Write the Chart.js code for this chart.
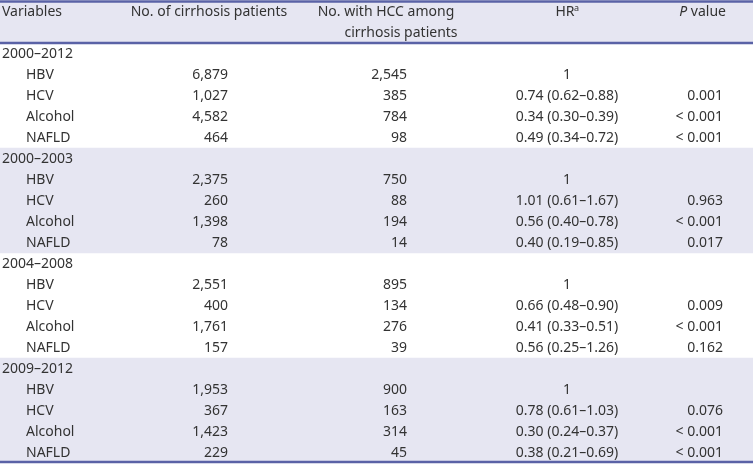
<!DOCTYPE html>
<html>
<head>
<meta charset="utf-8">
<script src="https://cdn.jsdelivr.net/npm/chart.js@4/dist/chart.umd.min.js"></script>
<style>
  html, body { margin: 0; padding: 0; background: #fff; }
  #wrap { width: 753px; height: 472px; }
</style>
</head>
<body>
<div id="wrap"><canvas id="hcc-table"></canvas></div>
<script>
const periods = ["2000–2012", "2000–2003", "2004–2008", "2009–2012"];
const causes = ["HBV", "HCV", "Alcohol", "NAFLD"];
const patients = [
  [6879, 1027, 4582, 464],
  [2375, 260, 1398, 78],
  [2551, 400, 1761, 157],
  [1953, 367, 1423, 229],
];
const hccCases = [
  [2545, 385, 784, 98],
  [750, 88, 194, 14],
  [895, 134, 276, 39],
  [900, 163, 314, 45],
];
const hazardRatios = [
  ["1", "0.74 (0.62–0.88)", "0.34 (0.30–0.39)", "0.49 (0.34–0.72)"],
  ["1", "1.01 (0.61–1.67)", "0.56 (0.40–0.78)", "0.40 (0.19–0.85)"],
  ["1", "0.66 (0.48–0.90)", "0.41 (0.33–0.51)", "0.56 (0.25–1.26)"],
  ["1", "0.78 (0.61–1.03)", "0.30 (0.24–0.37)", "0.38 (0.21–0.69)"],
];
const pValues = [
  ["", "0.001", "< 0.001", "< 0.001"],
  ["", "0.963", "< 0.001", "0.017"],
  ["", "0.009", "< 0.001", "0.162"],
  ["", "0.076", "< 0.001", "< 0.001"],
];
const shadedPeriods = [1, 3];

const FONT = '"Noto Sans", sans-serif';
const TEXT = "#333333";
const SHADE = "#e6e6f2";
const RULE = "#5a62a6";

// rows: two header lines, then a period row followed by its four causes
const rows = ["head1", "head2"];
const shaded = [true, true];
periods.forEach((p, g) => {
  rows.push(p);
  shaded.push(shadedPeriods.includes(g));
  causes.forEach((c) => {
    rows.push(c);
    shaded.push(shadedPeriods.includes(g));
  });
});

const tablePlugin = {
  id: "tableText",
  afterDatasetsDraw(chart) {
    const { ctx, chartArea, scales } = chart;
    const x = scales.x, y = scales.y;
    const rowY = (i) => y.getPixelForValue(i) + 0.5;

    ctx.save();
    ctx.fillStyle = TEXT;
    ctx.textBaseline = "middle";
    const put = (txt, col, row, align, style) => {
      ctx.font = (style || "") + " 14px " + FONT;
      ctx.textAlign = align;
      ctx.fillText(txt, x.getPixelForValue(col), rowY(row));
    };

    // header
    put("Variables", 2, 0, "left");
    put("No. of cirrhosis patients", 209, 0, "center");
    put("No. with HCC among", 386, 0, "center");
    put("cirrhosis patients", 401, 1, "center");
    put("HR", 565, 0, "center");
    ctx.font = "9px " + FONT;
    ctx.textAlign = "left";
    ctx.fillText("a", x.getPixelForValue(574), rowY(0) - 4);
    ctx.font = "14px " + FONT;
    ctx.textAlign = "right";
    ctx.fillText(" value", x.getPixelForValue(726), rowY(0));
    const vw = ctx.measureText(" value").width;
    ctx.font = "italic 14px " + FONT;
    ctx.fillText("P", x.getPixelForValue(726) - vw, rowY(0));

    // body
    let r = 2;
    periods.forEach((p, g) => {
      put(p, 2, r, "left");
      r++;
      causes.forEach((c, k) => {
        put(c, 26, r, "left");
        put(patients[g][k].toLocaleString("en-US"), 228, r, "right");
        put(hccCases[g][k].toLocaleString("en-US"), 407, r, "right");
        put(hazardRatios[g][k], 567, r, "center");
        put(pValues[g][k], 723, r, "right");
        r++;
      });
    });

    // rules
    ctx.strokeStyle = RULE;
    ctx.lineWidth = 2.5;
    const headBottom = (y.getPixelForValue(1) + y.getPixelForValue(2)) / 2;
    [chartArea.top + 0.5, headBottom, chartArea.bottom - 1].forEach((yy) => {
      ctx.beginPath();
      ctx.moveTo(chartArea.left, yy);
      ctx.lineTo(chartArea.right, yy);
      ctx.stroke();
    });
    ctx.restore();
  },
};

new Chart(document.getElementById("hcc-table"), {
  type: "bar",
  data: {
    labels: rows,
    datasets: [
      {
        data: shaded.map((s) => (s ? [0, 753] : null)),
        backgroundColor: SHADE,
        borderWidth: 0,
        barPercentage: 1,
        categoryPercentage: 1,
      },
    ],
  },
  options: {
    indexAxis: "y",
    responsive: true,
    maintainAspectRatio: false,
    animation: false,
    layout: { padding: { top: 1, bottom: 9, left: 0, right: 0 } },
    plugins: { legend: { display: false }, tooltip: { enabled: false } },
    scales: {
      x: { type: "linear", min: 0, max: 753, display: false },
      y: { type: "category", display: false, grid: { display: false } },
    },
  },
  plugins: [tablePlugin],
});
</script>
</body>
</html>
